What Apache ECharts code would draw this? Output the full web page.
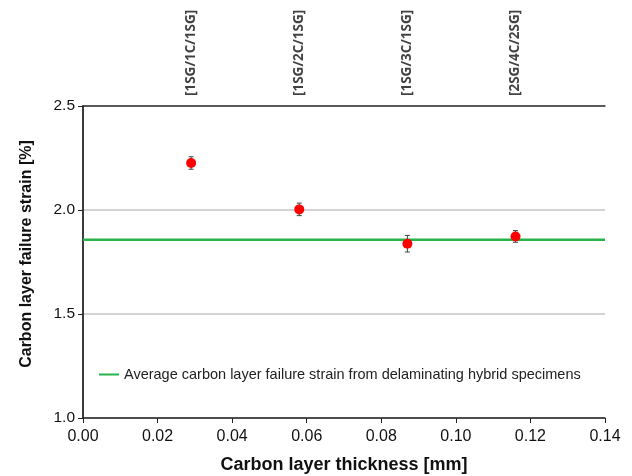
<!DOCTYPE html>
<html><head><meta charset="utf-8">
<script src="https://cdn.jsdelivr.net/npm/echarts@6/dist/echarts.min.js"></script>
<style>html,body{margin:0;padding:0;background:#fff}#c{width:632px;height:476px}</style>
</head><body><div id="c"></div>
<script>
const thickness = [0.029, 0.058, 0.087, 0.116];
const strain = [2.226, 2.003, 1.838, 1.873];
const strainErr = [0.03, 0.03, 0.04, 0.028];
const layups = ['[1SG/1C/1SG]', '[1SG/2C/1SG]', '[1SG/3C/1SG]', '[2SG/4C/2SG]'];
const avgStrain = 1.857;
const xTicks = [0, 0.14, 0.02];
const yTicks = [1.0, 2.5, 0.5];
const legendText = 'Average carbon layer failure strain from delaminating hybrid specimens';

const chart = echarts.init(document.getElementById('c'), null, {renderer: 'canvas'});
const font = 'Arial, "Liberation Sans", sans-serif';
const frameAxis = {show: true, lineStyle: {color: '#333', width: 1.5}};
chart.setOption({
  animation: false,
  grid: {left: 83, right: 27, top: 106, bottom: 58, containLabel: false, outerBoundsMode: 'none'},
  legend: {
    left: 94, top: 362, itemWidth: 20, itemHeight: 2, itemGap: 5,
    data: [{name: legendText, icon: 'rect'}],
    textStyle: {fontFamily: font, fontSize: 14.5, color: '#222'}
  },
  xAxis: [{
    type: 'value', min: xTicks[0], max: xTicks[1], interval: xTicks[2],
    name: 'Carbon layer thickness [mm]', nameLocation: 'middle', nameGap: 38,
    nameTextStyle: {fontFamily: font, fontSize: 18, fontWeight: 'bold', color: '#111'},
    axisLine: {lineStyle: {color: '#222', width: 1.5}},
    axisTick: {show: true, length: 5, lineStyle: {color: '#222'}},
    axisLabel: {fontFamily: font, fontSize: 16, color: '#111', margin: 11, formatter: v => v.toFixed(2)},
    splitLine: {show: false}
  }, {
    type: 'value', position: 'top', min: xTicks[0], max: xTicks[1],
    axisLine: frameAxis, axisTick: {show: false}, axisLabel: {show: false}, splitLine: {show: false}
  }],
  yAxis: [{
    type: 'value', min: yTicks[0], max: yTicks[1], interval: yTicks[2],
    name: 'Carbon layer failure strain [%]', nameLocation: 'middle', nameGap: 48,
    nameTextStyle: {fontFamily: font, fontSize: 16, fontWeight: 'bold', color: '#111', padding: [0, 0, 0, 16]},
    axisLine: {show: true, lineStyle: {color: '#222', width: 1.5}},
    axisTick: {show: true, length: 5, lineStyle: {color: '#222'}},
    axisLabel: {fontFamily: font, fontSize: 15.5, color: '#111', margin: 8, formatter: v => v.toFixed(1)},
    splitLine: {show: true, lineStyle: {color: '#c4c4c4', width: 1.5}}
  }, {
    type: 'value', position: 'right', min: yTicks[0], max: yTicks[1],
    axisLine: frameAxis, axisTick: {show: false}, axisLabel: {show: false}, splitLine: {show: false}
  }],
  series: [
    {
      name: legendText, type: 'line', symbol: 'none',
      data: [[xTicks[0], avgStrain], [xTicks[1], avgStrain]],
      lineStyle: {color: '#27b34b', width: 2.5}, itemStyle: {color: '#27b34b'}, z: 2
    },
    {
      type: 'custom', name: 'err', z: 3,
      data: thickness.map((x, i) => [x, strain[i] - strainErr[i], strain[i] + strainErr[i]]),
      renderItem: (params, api) => {
        const lo = api.coord([api.value(0), api.value(1)]);
        const hi = api.coord([api.value(0), api.value(2)]);
        const w = 2.5;
        const st = {stroke: '#444', lineWidth: 1};
        return {type: 'group', children: [
          {type: 'line', shape: {x1: lo[0], y1: lo[1], x2: hi[0], y2: hi[1]}, style: st},
          {type: 'line', shape: {x1: lo[0]-w, y1: lo[1], x2: lo[0]+w, y2: lo[1]}, style: st},
          {type: 'line', shape: {x1: hi[0]-w, y1: hi[1], x2: hi[0]+w, y2: hi[1]}, style: st}
        ]};
      }
    },
    {
      type: 'scatter', symbol: 'circle', symbolSize: 10, z: 4,
      itemStyle: {color: '#ff0000', opacity: 1},
      data: thickness.map((x, i) => [x, strain[i]])
    },
    {
      type: 'scatter', symbolSize: 0, z: 5, silent: true,
      data: thickness.map((x, i) => ({value: [x, yTicks[1]], name: layups[i]})),
      label: {
        show: true, position: 'top', distance: 10, rotate: 90,
        align: 'left', verticalAlign: 'middle',
        formatter: p => p.name,
        fontFamily: '"Open Sans", sans-serif', fontWeight: 'bold', fontSize: 13.5, color: '#111'
      }
    }
  ]
});
</script></body></html>
